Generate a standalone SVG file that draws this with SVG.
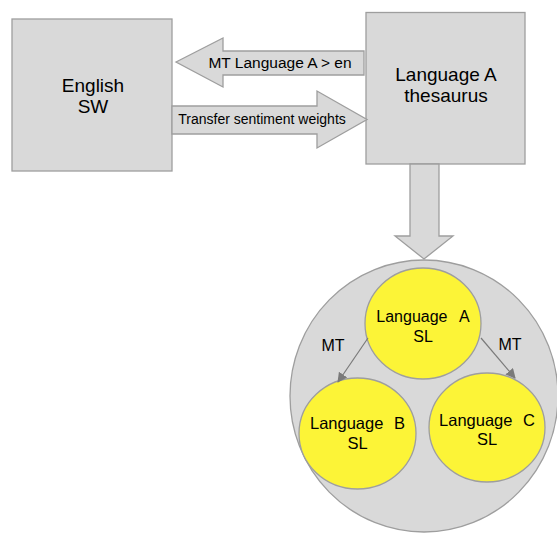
<svg xmlns="http://www.w3.org/2000/svg" width="557" height="533" viewBox="0 0 557 533">
<style>
.box{fill:#d9d9d9;stroke:#9e9e9e;stroke-width:1.3}
.yel{fill:#fcf437;stroke:#9e9e9e;stroke-width:1.3}
.t{font-family:"Liberation Sans",Arial,sans-serif;fill:#000;text-anchor:middle}
.conn{stroke:#7a7a7a;stroke-width:1.2;fill:none}
</style>
<defs>
<marker id="ah" viewBox="0 0 10 10" refX="9" refY="5" markerWidth="10" markerHeight="10" markerUnits="userSpaceOnUse" orient="auto">
<path d="M0,0 L10,5 L0,10 z" fill="#7a7a7a"/>
</marker>
</defs>
<g id="english">
<rect class="box" x="12" y="19" width="160" height="152"/>
<text class="t" x="93" y="92" font-size="19">English</text>
<text class="t" x="93" y="113" font-size="19">SW</text>
</g>
<g id="thesaurus">
<rect class="box" x="366" y="12.5" width="159" height="151.5"/>
<text class="t" x="446" y="81" font-size="19">Language A</text>
<text class="t" x="446" y="102" font-size="19">thesaurus</text>
</g>
<g id="pool">
<ellipse class="box" cx="424" cy="396" rx="134" ry="136"/>
</g>
<g id="langA">
<ellipse class="yel" cx="423" cy="323.5" rx="58" ry="55.5"/>
<text class="t" x="423" y="322" font-size="16" word-spacing="8">Language A</text>
<text class="t" x="423" y="342" font-size="16">SL</text>
</g>
<g id="langB">
<ellipse class="yel" cx="357.5" cy="433.5" rx="58.5" ry="55.5"/>
<text class="t" x="357.5" y="429" font-size="16.5" word-spacing="6">Language B</text>
<text class="t" x="357.5" y="449" font-size="16.5">SL</text>
</g>
<g id="langC">
<ellipse class="yel" cx="487" cy="427.5" rx="58" ry="54.5"/>
<text class="t" x="487" y="426" font-size="16.5" word-spacing="6">Language C</text>
<text class="t" x="487" y="445" font-size="16.5">SL</text>
</g>
<g id="connectors">
<polygon class="box" points="176,62 223,38 223,51 364,51 364,75 223,75 223,87"/>
<text class="t" x="280" y="68" font-size="15.5">MT Language A &gt; en</text>
<polygon class="box" points="172,106 317,106 317,91 367,119.5 317,148 317,134 172,134"/>
<text class="t" x="262" y="124" font-size="14">Transfer sentiment weights</text>
<polygon class="box" points="410,164 439,164 439,236 453,236 424,259 395,236 410,236"/>
<line class="conn" x1="368" y1="338" x2="338" y2="382" marker-end="url(#ah)"/>
<line class="conn" x1="481" y1="338" x2="515" y2="378" marker-end="url(#ah)"/>
<text class="t" x="333" y="351" font-size="16">MT</text>
<text class="t" x="510" y="350" font-size="16">MT</text>
</g>
</svg>
